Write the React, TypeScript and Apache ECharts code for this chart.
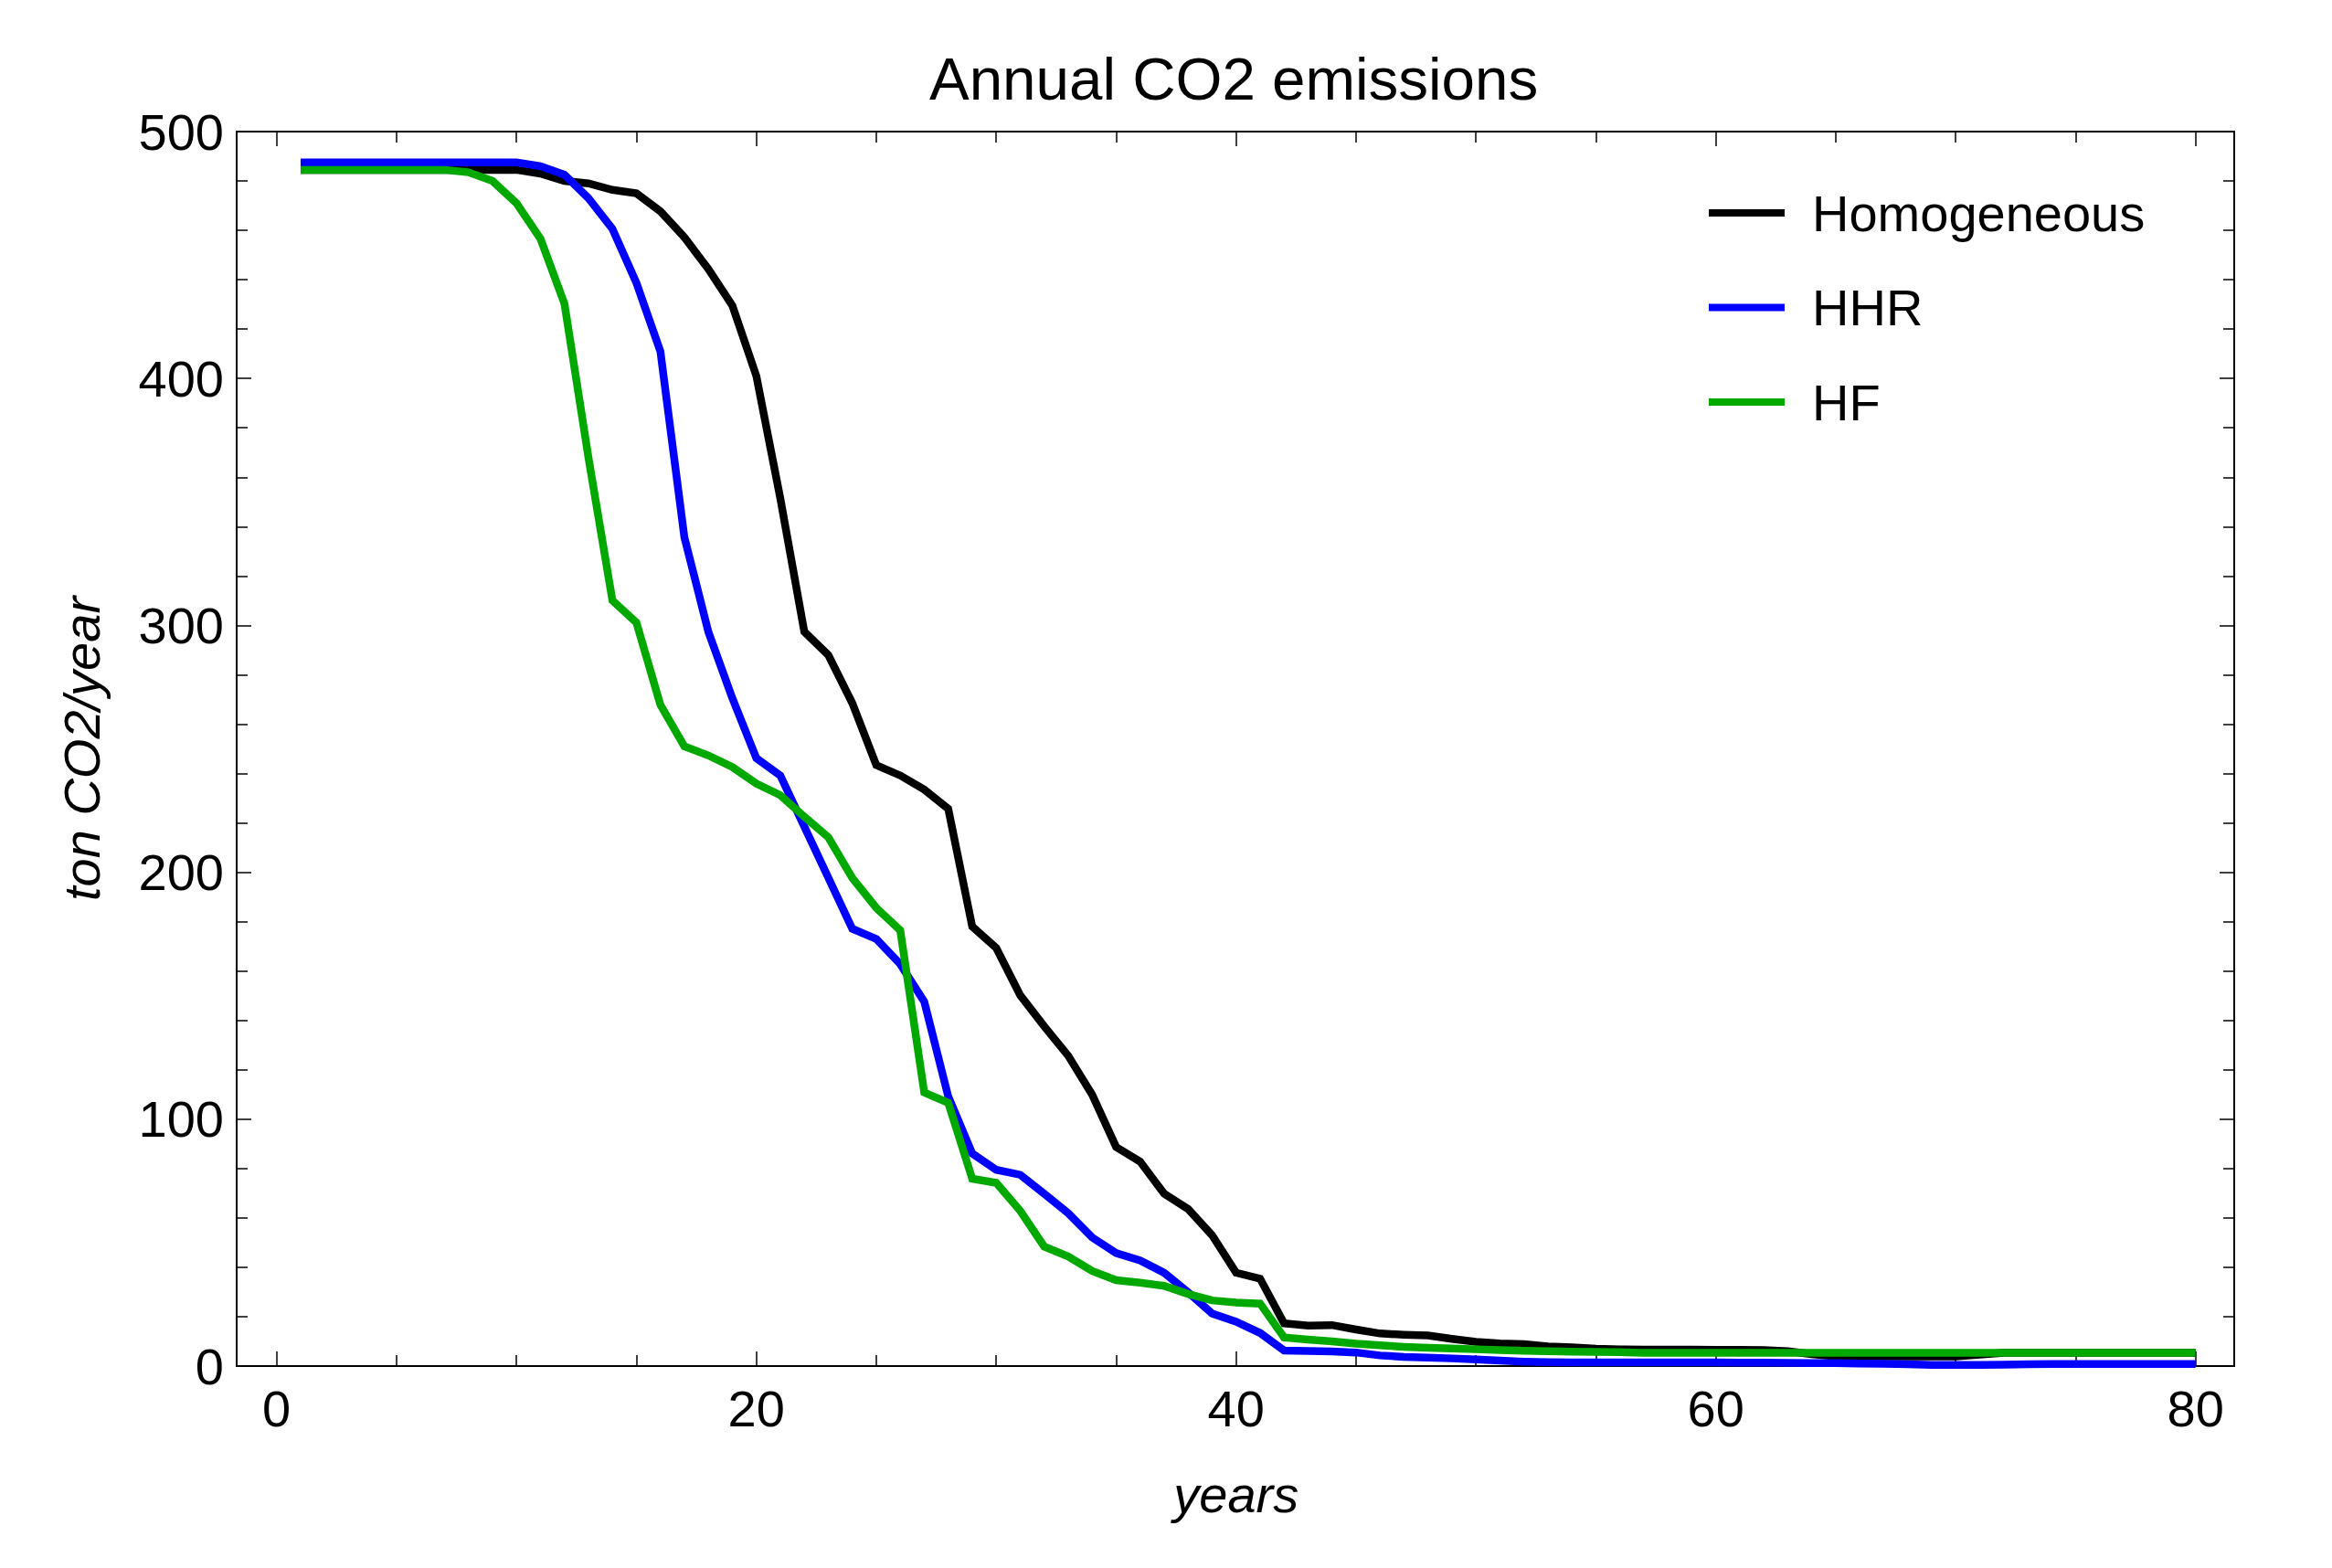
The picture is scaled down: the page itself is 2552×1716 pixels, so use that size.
import React, { useEffect, useRef } from "react";
import * as echarts from "echarts";

const YEARS = [
  1, 2, 3, 4, 5, 6, 7, 8, 9, 10, 11, 12, 13, 14, 15, 16, 17, 18, 19, 20,
  21, 22, 23, 24, 25, 26, 27, 28, 29, 30, 31, 32, 33, 34, 35, 36, 37, 38, 39, 40,
  41, 42, 43, 44, 45, 46, 47, 48, 49, 50, 51, 52, 53, 54, 55, 56, 57, 58, 59, 60,
  61, 62, 63, 64, 65, 66, 67, 68, 69, 70, 71, 72, 73, 74, 75, 76, 77, 78, 79, 80,
];

const HOMOGENEOUS = [
  484.5, 484.5, 484.5, 484.5, 484.5, 484.5, 484.5, 484.5, 484.5, 484.5,
  483, 480, 479, 476.4, 475, 467.7, 457.2, 444.3, 429.5, 401,
  351.4, 297.4, 288, 268.5, 243.4, 239.2, 233.5, 225.7, 178, 169.4,
  150.2, 137.6, 125.7, 109.9, 88.7, 82.8, 69.8, 63.6, 53, 37.8,
  35.4, 17.3, 16.4, 16.6, 14.8, 13.2, 12.7, 12.4, 11, 9.8,
  9.2, 8.9, 8, 7.6, 7, 6.8, 6.7, 6.7, 6.7, 6.6,
  6.6, 6.5, 6, 4.8, 3.9, 3.9, 3.9, 3.9, 3.9, 3.9,
  4.6, 5.4, 5.4, 5.4, 5.4, 5.4, 5.4, 5.4, 5.4, 5.4,
];

const HHR = [
  487.5, 487.5, 487.5, 487.5, 487.5, 487.5, 487.5, 487.5, 487.5, 487.5,
  486, 482.5, 473, 460.6, 438.7, 411, 335.7, 297.4, 270.5, 246.2,
  239.2, 218.5, 197.8, 177.1, 173, 162.8, 147.6, 109.2, 86.1, 79.5,
  77.5, 69.8, 61.9, 52.1, 45.8, 42.8, 37.8, 29.9, 21.3, 18,
  13.4, 6.3, 6.1, 5.9, 5.5, 4.3, 3.7, 3.4, 3.1, 2.7,
  2.2, 1.8, 1.6, 1.5, 1.5, 1.5, 1.5, 1.5, 1.5, 1.5,
  1.4, 1.4, 1.3, 1.2, 1.2, 1, 0.9, 0.7, 0.5, 0.5,
  0.5, 0.6, 0.7, 0.8, 0.8, 0.8, 0.8, 0.8, 0.8, 0.8,
];

const HF = [
  484.5, 484.5, 484.5, 484.5, 484.5, 484.5, 484.5, 483.5, 480, 471,
  456.6, 430.3, 368, 310.1, 301.1, 267.8, 251, 247.3, 242.6, 235.9,
  231.2, 222.5, 214.2, 197.7, 185.6, 176.5, 110.8, 106.6, 75.9, 74.2,
  62.9, 48.4, 44.4, 38.5, 34.8, 33.8, 32.5, 29.2, 26.6, 25.7,
  25.3, 11.6, 10.7, 10, 9.1, 8.4, 7.8, 7.4, 7.1, 6.8,
  6.5, 6.2, 6, 5.8, 5.7, 5.6, 5.4, 5.4, 5.4, 5.4,
  5.4, 5.4, 5.4, 5.4, 5.4, 5.4, 5.4, 5.4, 5.4, 5.4,
  5.4, 5.4, 5.4, 5.4, 5.4, 5.4, 5.4, 5.4, 5.4, 5.4,
];

const SERIES_NAMES = ["Homogeneous", "HHR", "HF"];
const SERIES_COLORS = ["#000000", "#0000ff", "#00a800"];
const X_TICKS = [0, 20, 40, 60, 80];
const Y_TICKS = [0, 100, 200, 300, 400, 500];

const FONT = "'Liberation Sans', Arial, Helvetica, sans-serif";

export default function App() {
  const ref = useRef<HTMLDivElement>(null);

  useEffect(() => {
    if (!ref.current) return;
    const chart = echarts.init(ref.current, null, { renderer: "svg" });

    const W = 2552;
    const H = 1716;
    const gridLeft = 302.7;
    const gridRight = 2402.7;
    const gridTop = 144;
    const gridBottom = 1495;
    const frameLeft = 259;
    const frameRight = 2445;

    const tickStyle = { color: "#000", width: 1.5 };

    const xBase = {
      type: "value",
      min: X_TICKS[0],
      max: X_TICKS[X_TICKS.length - 1],
      interval: X_TICKS[1] - X_TICKS[0],
      axisLine: { show: false, onZero: false },
      splitLine: { show: false },
      axisTick: { show: true, inside: true, length: 16, lineStyle: tickStyle },
      minorTick: { show: true, splitNumber: 4, length: 12, lineStyle: tickStyle },
    };
    const yBase = {
      type: "value",
      min: Y_TICKS[0],
      max: Y_TICKS[Y_TICKS.length - 1],
      interval: Y_TICKS[1] - Y_TICKS[0],
      axisLine: { show: false, onZero: false },
      splitLine: { show: false },
      axisTick: { show: true, inside: true, length: 16, lineStyle: tickStyle },
      minorTick: { show: true, splitNumber: 5, length: 12, lineStyle: tickStyle },
    };

    const seriesData = [HOMOGENEOUS, HHR, HF];

    chart.setOption({
      animation: false,
      backgroundColor: "#ffffff",
      textStyle: { fontFamily: FONT },
      title: {
        text: "Annual CO2 emissions",
        left: 1017,
        top: 53,
        padding: 0,
        textStyle: { fontFamily: FONT, fontSize: 65.5, fontWeight: "normal", color: "#000" },
      },
      legend: {
        orient: "vertical",
        left: 1870,
        top: 205,
        padding: 0,
        itemWidth: 83,
        itemHeight: 8,
        itemGap: 47.5,
        icon: "rect",
        selectedMode: false,
        data: SERIES_NAMES,
        textStyle: {
          fontFamily: FONT,
          fontSize: 56,
          lineHeight: 56,
          color: "#000",
          padding: [0, 0, 0, 25],
        },
      },
      grid: {
        left: gridLeft,
        right: W - gridRight,
        top: gridTop,
        bottom: H - gridBottom,
        containLabel: false,
        outerBoundsMode: "none",
      },
      xAxis: [
        {
          ...xBase,
          position: "bottom",
          name: "years",
          nameLocation: "middle",
          nameGap: 112,
          nameTextStyle: { fontFamily: FONT, fontSize: 56, fontStyle: "italic", color: "#000" },
          axisLabel: { show: true, margin: 18, fontFamily: FONT, fontSize: 56, color: "#000" },
        },
        {
          ...xBase,
          position: "top",
          axisLabel: { show: false },
        },
      ],
      yAxis: [
        {
          ...yBase,
          position: "left",
          offset: gridLeft - frameLeft,
          name: "ton CO2/year",
          nameLocation: "middle",
          nameGap: 142,
          nameTextStyle: { fontFamily: FONT, fontSize: 56, fontStyle: "italic", color: "#000" },
          axisLabel: { show: true, margin: 14, fontFamily: FONT, fontSize: 56, color: "#000" },
        },
        {
          ...yBase,
          position: "right",
          offset: frameRight - gridRight,
          axisLabel: { show: false },
        },
      ],
      graphic: [
        {
          type: "rect",
          silent: true,
          z: 0,
          shape: {
            x: frameLeft,
            y: gridTop,
            width: frameRight - frameLeft,
            height: gridBottom - gridTop,
          },
          style: { fill: "none", stroke: "#000", lineWidth: 2 },
        },
      ],
      series: SERIES_NAMES.map((name, i) => ({
        name,
        type: "line",
        xAxisIndex: 0,
        yAxisIndex: 0,
        showSymbol: false,
        symbol: "none",
        silent: true,
        color: SERIES_COLORS[i],
        itemStyle: { color: SERIES_COLORS[i] },
        lineStyle: { color: SERIES_COLORS[i], width: 8.5, join: "miter" },
        data: YEARS.map((y, k) => [y, seriesData[i][k]]),
        z: 2 + i,
      })),
    });

    return () => {
      chart.dispose();
    };
  }, []);

  return (
    <div
      ref={ref}
      style={{ position: "absolute", left: 0, top: 0, width: 2552, height: 1716, background: "#fff" }}
    />
  );
}
